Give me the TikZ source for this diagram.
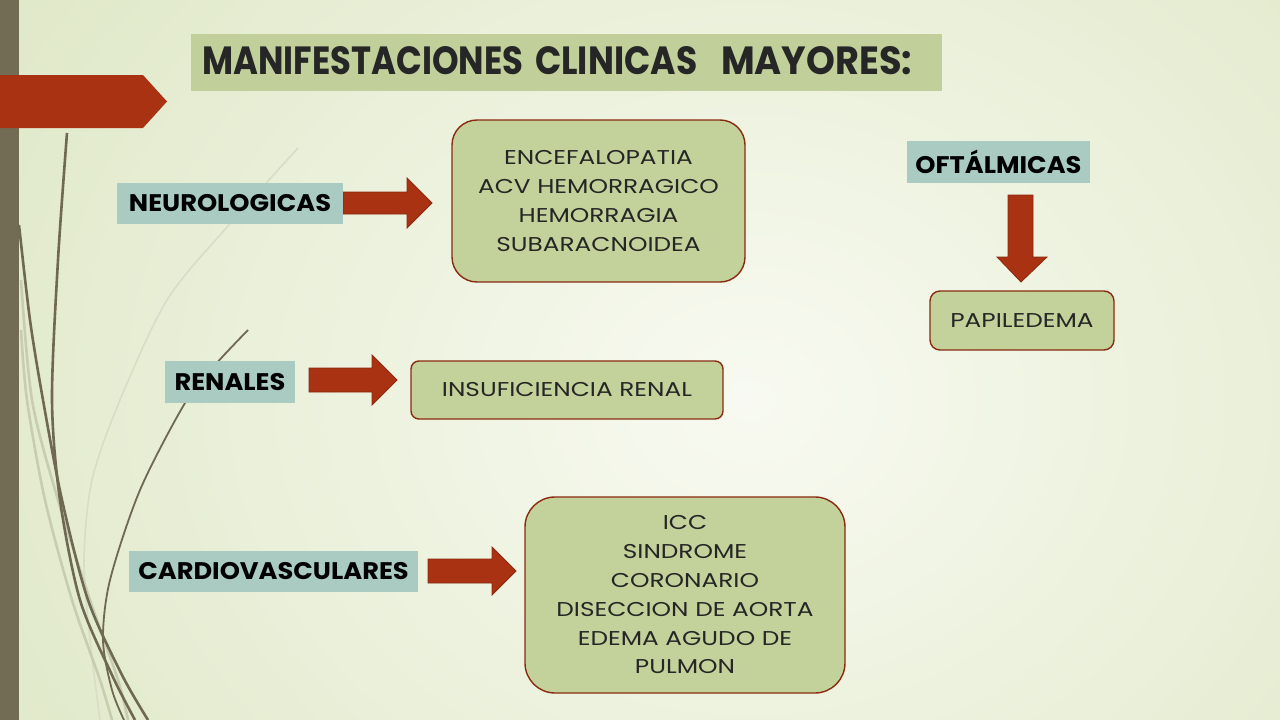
\documentclass[tikz,border=0pt]{standalone}
\usepackage{fontspec}
\setmainfont{Poppins}
\newfontfamily\bodyfont[FakeStretch=1.24]{Poppins}
\newfontfamily\labelfont[FakeStretch=1.07]{Poppins}
\usetikzlibrary{calc}
\definecolor{bgin}{HTML}{F8FAF1}
\definecolor{bgout}{HTML}{DFE8C7}
\definecolor{barc}{HTML}{736C55}
\definecolor{redc}{HTML}{A83211}
\definecolor{redline}{HTML}{8A2A10}
\definecolor{boxc}{HTML}{C3D29A}
\definecolor{titlec}{HTML}{C1D09A}
\definecolor{tealc}{HTML}{A9CBC2}
\definecolor{darkcurve}{HTML}{6F6852}
\definecolor{lightcurve}{HTML}{C8CDB2}
\definecolor{vlightcurve}{HTML}{D8DDC7}
\definecolor{textc}{HTML}{262626}
\tikzset{
  catlabel/.style={fill=tealc, inner sep=0pt, text=black, font=\labelfont\bfseries\fontsize{24}{24}\selectfont},
  greenbox/.style={draw=redline, line width=1.4pt, fill=boxc, rounded corners=#1, align=center, inner sep=0pt, text=textc, font=\bodyfont\fontsize{20}{28.8}\selectfont},
  blockarrow/.style={fill=redc, draw=redline, line width=0.8pt, line join=miter},
  dcurve/.style={draw=darkcurve, line width=2.6pt},
  lcurve/.style={draw=lightcurve, line width=2.6pt},
  titleword/.style={anchor=south west, inner sep=0pt, text=textc},
}
\begin{document}
\begin{tikzpicture}[x=1pt,y=-1pt]
\useasboundingbox (0,0) rectangle (1280,720);
% background
\begin{scope}
\clip (0,0) rectangle (1280,720);
\shade[inner color=bgin, outer color=bgout] (-150,-350) rectangle (1650,1150);
\end{scope}
% left bar
\fill[barc] (0,0) rectangle (19,720);
% decorative curves
\draw[vlightcurve, line width=1.6pt] plot[smooth] coordinates {(298,148) (227,227) (167,300) (120,400) (92,480) (84,560) (90,640) (100,720)};
\draw[lcurve] plot[smooth] coordinates {(21,330) (27,400) (45,500) (72,600) (100,680) (112,720)};
\draw[lcurve] plot[smooth] coordinates {(21,280) (32,400) (58,500) (90,600) (118,680) (128,720)};
\draw[dcurve] plot[smooth] coordinates {(67,133) (58,260) (52,400) (60,500) (80,600) (112,675) (135,720)};
\draw[dcurve] plot[smooth] coordinates {(19,225) (30,320) (43,400) (62,500) (88,600) (122,675) (148,720)};
\draw[darkcurve, line width=1.8pt] plot[smooth] coordinates {(248,330) (215,365) (185,403) (140,490) (110,580) (103,640) (112,690) (124,720)};
% red banner
\fill[redc] (0,75) -- (143,75) -- (167,101.5) -- (143,128) -- (0,128) -- cycle;
% title
\node[fill=titlec, minimum width=751pt, minimum height=57pt, inner sep=0pt] (title) at (566.5,62.5) {};
\node[titleword] (tw1) at (202,75) {\resizebox{321pt}{28pt}{\bfseries MANIFESTACIONES}};
\node[titleword] (tw2) at (535,75) {\resizebox{162pt}{28pt}{\bfseries CLINICAS}};
\node[titleword] (tw3) at (721,75) {\resizebox{191pt}{28pt}{\bfseries MAYORES:}};
% arrows
\draw[blockarrow] (343,192) -- (407,192) -- (407,178) -- (432,203) -- (407,228) -- (407,214) -- (343,214) -- cycle;
\draw[blockarrow] (309,368) -- (372,368) -- (372,355) -- (397,380) -- (372,405) -- (372,392) -- (309,392) -- cycle;
\draw[blockarrow] (428,559) -- (492,559) -- (492,547) -- (516,571) -- (492,595) -- (492,583) -- (428,583) -- cycle;
\draw[blockarrow] (1008,195) -- (1033,195) -- (1033,257) -- (1047,257) -- (1021,282) -- (997,257) -- (1008,257) -- cycle;
% category labels
\node[catlabel, minimum width=226pt, minimum height=41pt] (neu) at (230,203.5) {NEUROLOGICAS};
\node[catlabel, minimum width=130pt, minimum height=42pt] (ren) at (230,382) {RENALES};
\node[catlabel, minimum width=289pt, minimum height=41pt] (car) at (273.5,571.5) {CARDIOVASCULARES};
\node[catlabel, minimum width=183pt, minimum height=42pt] (oft) at (998.5,162) {OFTÁLMICAS};
% content boxes
\node[greenbox=25pt, minimum width=293pt, minimum height=162pt] (enc) at (598.5,201) {ENCEFALOPATIA\\ACV HEMORRAGICO\\HEMORRAGIA\\SUBARACNOIDEA};
\node[greenbox=8pt, minimum width=312pt, minimum height=58pt] (ins) at (567,390) {INSUFICIENCIA RENAL};
\node[greenbox=30pt, minimum width=320pt, minimum height=196pt] (icc) at (685,595) {ICC\\SINDROME\\CORONARIO\\DISECCION DE AORTA\\EDEMA AGUDO DE\\PULMON};
\node[greenbox=10pt, minimum width=184pt, minimum height=59pt] (pap) at (1022,320.5) {PAPILEDEMA};
\end{tikzpicture}
\end{document}
